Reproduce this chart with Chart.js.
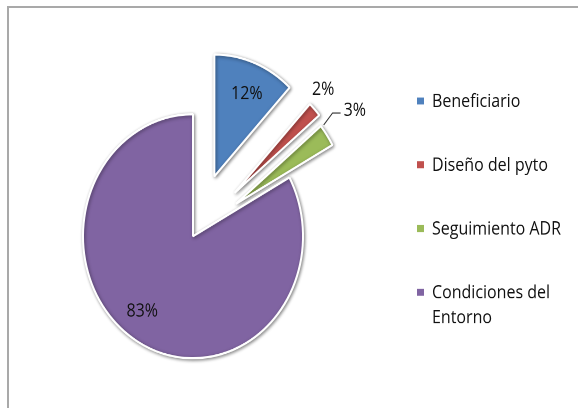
<!DOCTYPE html>
<html>
<head>
<meta charset="utf-8">
<script src="https://cdn.jsdelivr.net/npm/chart.js@4/dist/chart.umd.min.js"></script>
<style>
    body { margin: 0; background: #fff; overflow: hidden; }
    #marco {
        position: absolute; left: 7px; top: 6px;
        width: 620px; height: 440px;
        border: 2px solid #a9a9a9;
    }
    #lienzo {
        position: absolute; left: 0; top: 0;
        width: 578px; height: 368px;
        transform: scaleY(1.109);
        transform-origin: 0 0;
    }
</style>
</head>
<body>
<div id="marco"></div>
<div id="lienzo"><canvas id="grafico" width="578" height="368"></canvas></div>
<script>
// Datos del gráfico
const categorias = ["Beneficiario", "Diseño del pyto", "Seguimiento ADR", "Condiciones del Entorno"];
const porcentajes = [12, 2, 3, 83];
const colores = ["#4f81bd", "#c0504d", "#9bbb59", "#8064a2"];

// Estilo: separación de cada porción y posición de las etiquetas
const separacion = [58, 57, 52, 0];
const distEtiqueta = [140, 186, 198, 84];
const giroEtiqueta = [1, -2.4, -1, 6.6];
const conGuia = [false, false, true, false];
const fuente = "16px 'Open Sans'";

document.addEventListener("DOMContentLoaded", function () {

    // Dibuja las porciones desplazadas con sombra
    const porcionesSeparadas = {
        id: "porcionesSeparadas",
        beforeDatasetDraw(chart, args) {
            const ctx = chart.ctx;
            args.meta.data.forEach((arco, i) => {
                const medio = (arco.startAngle + arco.endAngle) / 2;
                ctx.save();
                ctx.translate(Math.cos(medio) * separacion[i], Math.sin(medio) * separacion[i]);
                ctx.shadowColor = "rgba(0,0,0,0.45)";
                ctx.shadowBlur = 6;
                ctx.shadowOffsetX = 2;
                ctx.shadowOffsetY = 2;
                arco.draw(ctx, chart.chartArea);
                ctx.restore();
            });
            return false;
        }
    };

    // Etiquetas de porcentaje
    const etiquetas = {
        id: "etiquetas",
        afterDatasetsDraw(chart) {
            const ctx = chart.ctx;
            const meta = chart.getDatasetMeta(0);
            ctx.save();
            ctx.font = fuente;
            ctx.fillStyle = "#111";
            ctx.textAlign = "center";
            ctx.textBaseline = "alphabetic";
            meta.data.forEach((arco, i) => {
                const medio = (arco.startAngle + arco.endAngle) / 2;
                const a = medio + giroEtiqueta[i] * Math.PI / 180;
                const x = arco.x + Math.cos(a) * distEtiqueta[i];
                const y = arco.y + Math.sin(a) * distEtiqueta[i];
                const texto = porcentajes[i] + "%";
                ctx.fillText(texto, x, y + 5.6);

                if (conGuia[i]) {
                    const ancho = ctx.measureText(texto).width;
                    const cx = arco.x + Math.cos(medio) * separacion[i];
                    const cy = arco.y + Math.sin(medio) * separacion[i];
                    const ang = arco.startAngle + 0.01;
                    const r = arco.outerRadius + 3;
                    const finX = x - ancho / 2 - 3;
                    const finY = y + 3;
                    ctx.beginPath();
                    ctx.moveTo(cx + Math.cos(ang) * r, cy + Math.sin(ang) * r);
                    ctx.lineTo(finX - 8, finY);
                    ctx.lineTo(finX, finY);
                    ctx.strokeStyle = "#333";
                    ctx.lineWidth = 1;
                    ctx.stroke();
                }
            });
            ctx.restore();
        }
    };

    // Leyenda a la derecha
    const leyenda = {
        id: "leyenda",
        afterDraw(chart) {
            const ctx = chart.ctx;
            const cajaX = 417, textoX = 432, arriba = 96.4, paso = 57.5, interlinea = 22.5, maxAncho = 142;
            ctx.save();
            ctx.font = fuente;
            ctx.textAlign = "left";
            ctx.textBaseline = "alphabetic";
            categorias.forEach((cat, i) => {
                const base = arriba + i * paso;
                ctx.fillStyle = colores[i];
                ctx.fillRect(cajaX, base - 8.5, 7, 6.3);

                // partir el texto en líneas
                let lineas = [];
                let actual = "";
                cat.split(" ").forEach(palabra => {
                    const prueba = actual ? actual + " " + palabra : palabra;
                    if (ctx.measureText(prueba).width > maxAncho && actual) {
                        lineas.push(actual);
                        actual = palabra;
                    } else {
                        actual = prueba;
                    }
                });
                lineas.push(actual);

                ctx.fillStyle = "#111";
                lineas.forEach((l, j) => ctx.fillText(l, textoX, base + j * interlinea));
            });
            ctx.restore();
        }
    };

    new Chart(document.getElementById("grafico"), {
        type: "pie",
        data: {
            labels: categorias,
            datasets: [{
                data: porcentajes,
                backgroundColor: colores,
                borderColor: "#ffffff",
                borderWidth: 2
            }]
        },
        options: {
            responsive: false,
            devicePixelRatio: 2,
            animation: false,
            radius: 110,
            layout: { padding: { top: 58, right: 192, bottom: 0, left: 0 } },
            plugins: {
                legend: { display: false },
                tooltip: { enabled: false }
            }
        },
        plugins: [porcionesSeparadas, etiquetas, leyenda]
    });
});
</script>
</body>
</html>
